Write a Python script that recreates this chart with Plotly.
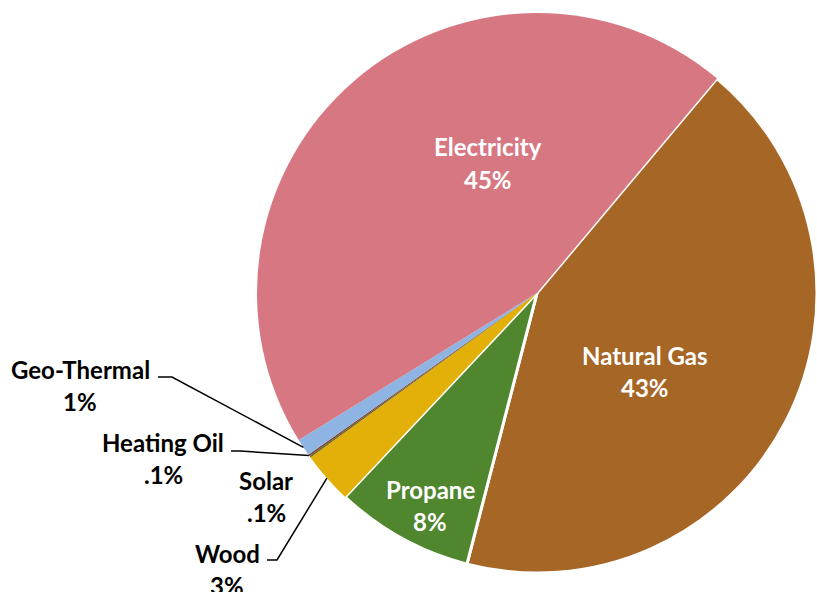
import math
import plotly.graph_objects as go

# Household heating fuel shares (percent)
sources = ["Natural Gas", "Propane", "Wood", "Solar", "Heating Oil", "Geo-Thermal", "Electricity"]
shares = [43, 8, 3, 0.1, 0.1, 1, 45]
colors = ["#A66626", "#50862E", "#E2B008", "#6F6A2A", "#7D3A2C", "#8DB4E2", "#D67782"]
border_widths = [3, 3, 0, 0, 0, 0, 0]

W, H = 817, 592
CX, CY, R = 537, 293, 280      # pie centre and radius in pixels
ROTATION = 40                  # start angle of the first slice, clockwise from 12 o'clock

# name-line centre of each label (pixels); the percentage sits one line below
label_pos = {
    "Electricity": (488, 147),
    "Natural Gas": (645, 355),
    "Propane": (430, 489),
    "Geo-Thermal": (80, 369),
    "Heating Oil": (163, 442),
    "Solar": (266, 480),
    "Wood": (227, 553),
}
inside = {"Electricity", "Natural Gas", "Propane"}
# elbow points of the leader lines (pixels)
leaders = {
    "Geo-Thermal": [(158, 377), (172, 377)],
    "Heating Oil": [(231, 451), (240, 451)],
    "Wood": [(267, 560), (277, 560)],
}
LINE_GAP = 32
FONT_SIZE = 24


def px(x):
    return x / W


def py(y):
    return 1 - y / H


def pct(v):
    s = f"{v:g}%"
    return s[1:] if s.startswith("0.") else s


fig = go.Figure(
    go.Pie(
        labels=sources,
        values=shares,
        sort=False,
        direction="clockwise",
        rotation=ROTATION,
        marker=dict(colors=colors, line=dict(color="white", width=border_widths)),
        textinfo="none",
        hoverinfo="label+percent",
        domain=dict(x=[px(CX - R), 1], y=[py(CY + R), py(CY - R)]),
        showlegend=False,
    )
)

annotations = []
shapes = []
total = sum(shares)
cum = 0.0
for name, v in zip(sources, shares):
    mid = math.radians(ROTATION + 360 * (cum + v / 2) / total)
    cum += v
    x, y = label_pos[name]
    col = "white" if name in inside else "black"
    for line_text, dy in ((name, 0), (pct(v), LINE_GAP)):
        annotations.append(dict(
            x=px(x), y=py(y + dy), xref="paper", yref="paper",
            text=line_text, showarrow=False, xanchor="center", yanchor="middle",
            font=dict(family="Lato", size=FONT_SIZE, color=col, weight="bold"),
        ))
    if name in leaders:
        ex = CX + R * math.sin(mid)
        ey = CY - R * math.cos(mid)
        pts = leaders[name] + [(ex, ey)]
        path = "M " + " L ".join(f"{px(a):.5f},{py(b):.5f}" for a, b in pts)
        shapes.append(dict(type="path", path=path, xref="paper", yref="paper",
                           line=dict(color="black", width=1.5)))

fig.update_layout(
    width=W, height=H, autosize=False,
    margin=dict(l=0, r=0, t=0, b=0),
    paper_bgcolor="white", plot_bgcolor="white",
    annotations=annotations, shapes=shapes,
)

fig.write_html("out.html")
